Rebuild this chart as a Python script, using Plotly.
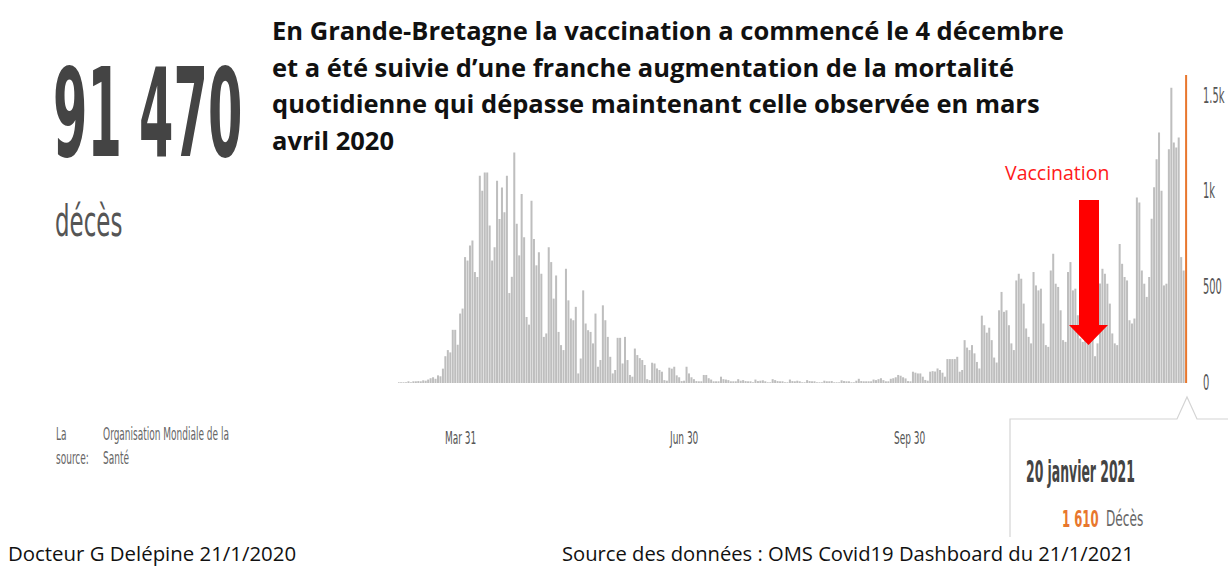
import json
import pandas as pd
import plotly.graph_objects as go

# ---------------- data ----------------
# daily reported deaths, United Kingdom, 6 Mar 2020 -> 20 Jan 2021 (one value per day)
deaths = [
    2, 1, 3, 2, 4, 3, 6,
    8, 10, 6, 14, 12, 18, 25,
    30, 22, 40, 35, 75, 140, 172,
    160, 278, 278, 200, 363, 389, 658,
    640, 719, 745, 580, 554, 1083, 1005,
    1100, 1100, 823, 640, 710, 1057, 857,
    1022, 892, 1083, 470, 555, 1205, 832,
    667, 988, 762, 345, 305, 953, 753,
    615, 684, 571, 241, 259, 710, 632,
    441, 562, 267, 198, 172, 597, 432,
    337, 328, 398, 50, 128, 484, 311,
    276, 267, 207, 363, 85, 120, 406,
    328, 241, 137, 50, 68, 236, 236,
    102, 241, 120, 42, 33, 180, 146,
    130, 120, 94, 20, 15, 106, 102,
    76, 68, 59, 15, 12, 80, 75,
    85, 40, 30, 10, 12, 85, 50,
    30, 20, 10, 8, 5, 42, 42,
    25, 18, 8, 5, 8, 33, 20,
    18, 15, 8, 5, 5, 20, 12,
    15, 10, 5, 5, 3, 18, 10,
    12, 14, 5, 3, 3, 20, 15,
    10, 8, 4, 3, 3, 18, 10,
    8, 12, 4, 2, 2, 15, 10,
    8, 5, 3, 2, 3, 12, 9,
    8, 10, 3, 2, 2, 14, 10,
    8, 6, 3, 3, 12, 22, 10,
    8, 5, 4, 5, 18, 15, 20,
    25, 15, 8, 6, 22, 25, 30,
    42, 38, 30, 24, 10, 8, 59,
    54, 50, 50, 33, 16, 12, 59,
    62, 60, 76, 68, 54, 33, 125,
    125, 125, 125, 137, 59, 68, 224,
    185, 172, 198, 155, 110, 76, 352,
    302, 263, 289, 224, 133, 107, 380,
    476, 372, 380, 302, 207, 172, 536,
    571, 545, 415, 285, 241, 207, 580,
    510, 484, 493, 311, 198, 189, 588,
    675, 519, 502, 380, 224, 215, 580,
    632, 484, 493, 354, 233, 215, 530,
    515, 425, 520, 140, 207, 520, 597,
    571, 519, 415, 259, 207, 198, 727,
    623, 554, 536, 328, 311, 337, 970,
    944, 588, 519, 450, 554, 858, 1023,
    1170, 1309, 1005, 510, 519, 1222, 1543,
    1257, 1231, 1283, 658, 588, 1610,
]
last_day = "2021-01-20"
highlight_day = "2021-01-20"

x_tick_dates = ["2020-03-31", "2020-06-30", "2020-09-30"]
x_tick_text = ["Mar 31", "Jun 30", "Sep 30"]
y_tick_vals = [0, 500, 1000, 1500]
y_tick_text = ["0", "500", "1k", "1.5k"]

title_lines = [
    "En Grande-Bretagne la vaccination a commencé le 4 décembre",
    "et a été suivie d’une franche augmentation de la mortalité",
    "quotidienne qui dépasse maintenant celle observée en mars",
    "avril 2020",
]
total_text = "91 470"
total_label = "décès"
source_label = ["La", "source:"]
source_name = ["Organisation Mondiale de la", "Santé"]
tooltip_date = "20 janvier 2021"
tooltip_value = "1 610"
tooltip_unit = "Décès"
arrow_label = "Vaccination"
credit_left = "Docteur G Delépine 21/1/2020"
credit_right = "Source des données : OMS Covid19 Dashboard du 21/1/2021"

# ---------------- styling ----------------
W, H = 1228, 567
GREY_BAR = "#BEBEBE"
ORANGE = "#E8772E"
DARK = "#444444"
NARROW = "Liberation Sans Narrow, Arial Narrow, DejaVu Sans Condensed, Liberation Sans, sans-serif"
SLIDE = "Open Sans, Lato, sans-serif"


def px(x):
    return x / W


def py(y):
    return 1 - y / H


dates = pd.date_range(end=last_day, periods=len(deaths), freq="D")
colors = [ORANGE if d == pd.Timestamp(highlight_day) else GREY_BAR for d in dates]

fig = go.Figure(
    go.Bar(
        x=dates,
        y=deaths,
        marker=dict(color=colors, line=dict(width=0)),
        hoverinfo="skip",
    )
)

y_bottom_px, y_top_px = 383, 67.3
x_left_px, x_right_px = 398, 1190

fig.update_layout(
    width=W,
    height=H,
    margin=dict(l=0, r=0, t=0, b=0),
    paper_bgcolor="white",
    plot_bgcolor="white",
    showlegend=False,
    bargap=0.18,
    xaxis=dict(
        domain=[px(x_left_px), px(x_right_px)],
        range=["2020-03-05 18:00", "2021-01-21 14:00"],
        showgrid=False, zeroline=False, showline=False,
        showticklabels=False, ticks="",
    ),
    yaxis=dict(
        domain=[py(y_bottom_px), py(y_top_px)],
        range=[0, 1650],
        showgrid=False, zeroline=False, showline=False,
        showticklabels=False, ticks="",
    ),
)

annotations = []
stretch = {}


def add(text, x, y, size, color, family, xanchor="left", weight="normal",
        xref="paper", yref="paper", yshift=0, sxy=None):
    annotations.append(dict(
        text=text, x=x, y=y, xref=xref, yref=yref, xanchor=xanchor,
        yanchor="middle", showarrow=False, yshift=yshift,
        font=dict(size=size, color=color, family=family, weight=weight),
    ))
    if sxy:
        stretch[str(len(annotations) - 1)] = sxy


# headline text
for i, line in enumerate(title_lines):
    add(line, px(270), py(30 + i * 36.7), 25.5, "#111111", SLIDE, weight="bold")

# big total
add(total_text, px(147), py(113), 55, DARK, NARROW, xanchor="center",
    weight="bold", sxy=[1, 2.24])
add(total_label, px(53), py(221), 25.5, "#555555", NARROW, sxy=[1, 1.68])

# source block
for i, t in enumerate(source_label):
    add(t, px(54), py(433 + i * 24), 10, "#666666", NARROW, sxy=[1, 1.8])
for i, t in enumerate(source_name):
    add(t, px(101), py(433 + i * 24), 10, "#666666", NARROW, sxy=[1, 1.8])

# axis tick labels
for d, t in zip(x_tick_dates, x_tick_text):
    add(t, d, 0, 10, "#555555", NARROW, xanchor="center", xref="x", yref="y",
        yshift=-54, sxy=[1, 1.8])
for v, t in zip(y_tick_vals, y_tick_text):
    add(t, px(1201), v, 11, "#555555", NARROW, xref="paper", yref="y",
        sxy=[1, 1.9])

# vaccination label
add(arrow_label, px(1057), py(172), 19.5, "#FF1A1A", SLIDE, xanchor="center")

# tooltip
add(tooltip_date, px(1080), py(471), 13.8, DARK, NARROW, xanchor="center",
    weight="bold", sxy=[1, 2.18])
add(tooltip_value, px(1101), py(519), 13, ORANGE, NARROW, xanchor="right",
    weight="bold", sxy=[1, 1.76])
add(tooltip_unit, px(1104), py(518), 13.5, "#666666", NARROW, sxy=[1, 1.52])

# credits
add(credit_left, px(6), py(553), 20.4, "#111111", SLIDE)
add(credit_right, px(560), py(553), 20.2, "#111111", SLIDE)

fig.update_layout(annotations=annotations)

# shapes: red arrow and tooltip frame
arrow_path = "M {a},{b} L {c},{b} L {c},{d} L {e},{d} L {f},{g} L {h},{d} L {a},{d} Z".format(
    a=px(1079), b=py(200), c=px(1099), d=py(325), e=px(1108), f=px(1088.5),
    g=py(345), h=px(1069))
frame_path = "M {a},{b} L {a},{c} L {d},{c} L {e},{f} L {g},{c} L {h},{c}".format(
    a=px(1010), b=py(537), c=py(419), d=px(1177), e=px(1187), f=py(397),
    g=px(1197), h=px(1228))
fig.update_layout(shapes=[
    dict(type="path", path=arrow_path, xref="paper", yref="paper",
         fillcolor="#FF0000", line=dict(width=0), layer="above"),
    dict(type="path", path=frame_path, xref="paper", yref="paper",
         line=dict(color="#d4d4d4", width=1.2), layer="above"),
])

post = """
(function(){
  document.documentElement.style.margin='0';
  document.body.style.margin='0';
  document.body.style.overflow='hidden';
  var gd = document.getElementById('{plot_id}');
  var ST = __ST__;
  function stretch(){
    var anns = gd.querySelectorAll('g.annotation');
    for (var i = 0; i < anns.length; i++) {
      var g = anns[i];
      var s = ST[g.getAttribute('data-index')];
      if (!s) continue;
      var t = g.querySelector('text.annotation-text');
      if (!t) continue;
      t.removeAttribute('transform');
      var b = t.getBBox();
      var cx = b.x + b.width / 2, cy = b.y + b.height / 2;
      t.setAttribute('transform', 'translate(' + cx + ',' + cy + ') scale(' + s[0] + ',' + s[1] + ') translate(' + (-cx) + ',' + (-cy) + ')');
    }
  }
  stretch();
  if (gd.on) gd.on('plotly_afterplot', stretch);
})();
""".replace("__ST__", json.dumps(stretch))

fig.write_html("out.html", post_script=post, config={"displayModeBar": False})
